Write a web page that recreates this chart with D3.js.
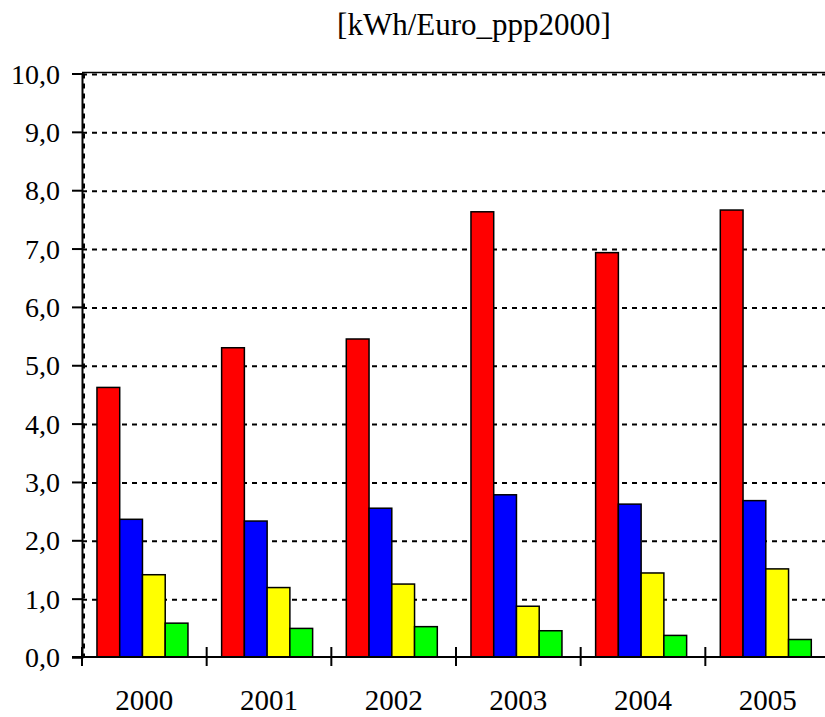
<!DOCTYPE html>
<html lang="en">
<head>
    <meta charset="UTF-8">
    <title>kWh/Euro_ppp2000</title>
    <script src="https://d3js.org/d3.v7.min.js"></script>
    <style>
        body { margin: 0; background: #fff; }
        text { font-family: "Liberation Serif", "Times New Roman", serif; fill: #000; }
        .grid { stroke: #000; stroke-width: 2; stroke-dasharray: 5,5; }
    </style>
</head>
<body>
    <svg id="chart"></svg>
    <script>
        // Data
        const years = ["2000", "2001", "2002", "2003", "2004", "2005"];
        const seriesNames = ["s1", "s2", "s3", "s4"];
        const seriesColors = ["#ff0000", "#0000ff", "#ffff00", "#00ff00"];
        const s1 = [4.62, 5.30, 5.45, 7.63, 6.93, 7.66];
        const s2 = [2.36, 2.33, 2.55, 2.78, 2.62, 2.68];
        const s3 = [1.41, 1.19, 1.25, 0.87, 1.44, 1.51];
        const s4 = [0.58, 0.49, 0.52, 0.45, 0.37, 0.30];
        const yTicks = [0, 1, 2, 3, 4, 5, 6, 7, 8, 9, 10];

        const seriesValues = [s1, s2, s3, s4];
        const width = 825, height = 717;
        const svg = d3.select("#chart").attr("width", width).attr("height", height);

        const plotLeft = 82, plotRight = 830, plotTop = 73.5, plotBottom = 657;

        const y = d3.scaleLinear().domain([0, 10]).range([plotBottom, plotTop]);
        const x = d3.scaleBand().domain(years).range([plotLeft, plotRight]);
        // bars sit slightly left inside each category
        const inner = d3.scaleBand().domain(seriesNames)
            .range([0.12 * x.bandwidth(), 0.85 * x.bandwidth()]);

        // gridlines (dotted)
        svg.append("g").selectAll("line")
            .data(yTicks.filter(d => d > 0))
            .enter().append("line")
            .attr("class", "grid")
            .attr("x1", plotLeft).attr("x2", plotRight)
            .attr("y1", d => y(d) + 1).attr("y2", d => y(d) + 1);
        // solid top border
        svg.append("line")
            .attr("x1", plotLeft).attr("x2", plotRight)
            .attr("y1", y(10) - 1).attr("y2", y(10) - 1)
            .attr("stroke", "#000").attr("stroke-width", 1.5);
        // vertical dashed line beside the axis
        svg.append("line")
            .attr("class", "grid")
            .attr("x1", plotLeft + 2).attr("x2", plotLeft + 2)
            .attr("y1", plotTop).attr("y2", plotBottom);

        // bars
        const flat = [];
        years.forEach((yr, i) => seriesNames.forEach((s, j) => flat.push({ year: yr, series: s, color: seriesColors[j], value: seriesValues[j][i] })));
        svg.append("g").selectAll("rect")
            .data(flat)
            .enter().append("rect")
            .attr("x", d => x(d.year) + inner(d.series))
            .attr("width", inner.bandwidth())
            .attr("y", d => y(d.value))
            .attr("height", d => y(0) - y(d.value))
            .attr("fill", d => d.color)
            .attr("stroke", "#000")
            .attr("stroke-width", 1.5);

        // Y axis
        const yAxis = svg.append("g")
            .attr("transform", `translate(${plotLeft},0)`)
            .call(d3.axisLeft(y).tickValues(yTicks).tickSize(10).tickPadding(12)
                .tickFormat(d => d3.format(".1f")(d).replace(".", ",")));
        yAxis.select(".domain").attr("stroke-width", 2);
        yAxis.selectAll(".tick line").attr("stroke-width", 2);
        yAxis.selectAll("text").style("font-size", "28px").attr("dy", "0.34em");

        // X axis line and category boundary ticks
        svg.append("line")
            .attr("x1", plotLeft - 10).attr("x2", plotRight)
            .attr("y1", plotBottom).attr("y2", plotBottom)
            .attr("stroke", "#000").attr("stroke-width", 2);
        svg.append("g").selectAll("line")
            .data(years)
            .enter().append("line")
            .attr("x1", d => x(d)).attr("x2", d => x(d))
            .attr("y1", plotBottom - 10).attr("y2", plotBottom + 9)
            .attr("stroke", "#000").attr("stroke-width", 2);

        svg.append("g").selectAll("text")
            .data(years)
            .enter().append("text")
            .attr("x", d => x(d) + x.bandwidth() / 2)
            .attr("y", 710)
            .attr("text-anchor", "middle")
            .style("font-size", "29px")
            .text(d => d);

        // unit title
        svg.append("text")
            .attr("x", 474).attr("y", 35)
            .attr("text-anchor", "middle")
            .style("font-size", "31px")
            .text("[kWh/Euro_ppp2000]");
    </script>
</body>
</html>
